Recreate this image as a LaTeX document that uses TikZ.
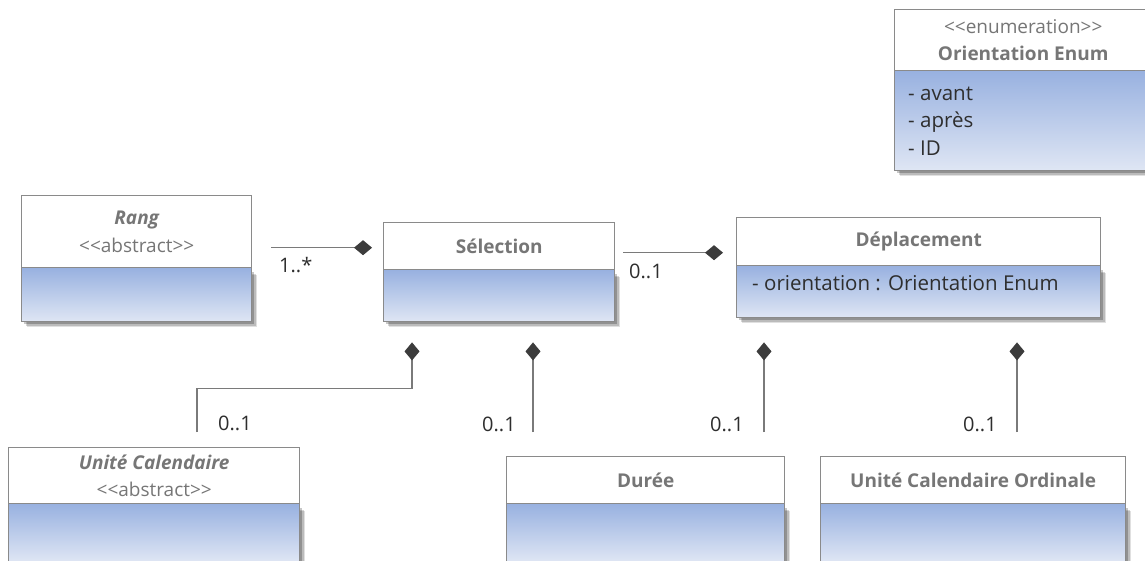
\documentclass[tikz,border=0pt]{standalone}
\usepackage{fontspec}
\setmainfont{Open Sans}[Ligatures=TeXOff]
\usetikzlibrary{arrows.meta,calc}
\definecolor{boxgray}{HTML}{8A8A8A}
\definecolor{titlec}{HTML}{767676}
\definecolor{textc}{HTML}{2E2E2E}
\definecolor{linec}{HTML}{7A7A7A}
\definecolor{diamc}{HTML}{3C3C3C}
\definecolor{bodytop}{RGB}{152,177,224}
\definecolor{bodybot}{RGB}{223,230,244}
\tikzset{
  hdr/.style={draw=boxgray,line width=1.4pt,fill=white,anchor=north west,inner sep=0pt,
    align=center,text=titlec,font=\fontsize{19}{27.5}\selectfont\bfseries},
  bdy/.style={draw=boxgray,line width=1.4pt,top color=bodytop,bottom color=bodybot,
    anchor=north west,inner sep=0pt},
  attr/.style={anchor=base west,inner sep=0pt,align=left,text=textc,
    font=\fontsize{20.5}{27.5}\selectfont},
  mult/.style={anchor=base west,inner sep=0pt,text=textc,font=\fontsize{20}{24}\selectfont},
  comp/.style={draw=linec,line width=1.3pt,-{Diamond[length=18pt,width=15pt,color=diamc]}},
}
% #1 id, #2 x, #3 y, #4 width, #5 header height, #6 body height, #7 header text
\newcommand\UMLcls[7]{%
  \foreach \s/\o in {6/.12,4.5/.16,3/.22}{%
    \fill[black,opacity=\o] (#2+\s,#3+#5+\s+2) rectangle (#2+#4+\s,#3+#5+#6+\s);}
  \node[hdr,minimum width=#4pt,minimum height=#5pt] (#1H) at (#2,#3) {#7};
  \node[bdy,minimum width=#4pt,minimum height=#6pt] (#1B) at (#2,#3+#5) {};
}
\begin{document}
\begin{tikzpicture}[x=1pt,y=-1pt]
\useasboundingbox (0,0) rectangle (1145,560);
\fill[white] (0,0) rectangle (1145,560);

\UMLcls{enum}{894}{9}{257}{61}{100}{{\mdseries <<enumeration>>}\\Orientation Enum}
\node[attr] (enumA) at (908,155) {- avant\\- après\\- ID};

\UMLcls{rang}{21}{195}{230}{72}{54}{{\itshape Rang}\\{\mdseries <<abstract>>}}
\UMLcls{sel}{383}{222}{231}{47}{52}{Sélection}
\UMLcls{depl}{736}{217}{364}{48}{52}{Déplacement}
\node[attr] (deplA) at (752,290) {- orientation : Orientation Enum};

\UMLcls{uc}{8}{447}{291}{56}{58}{{\itshape Unité Calendaire}\\{\mdseries <<abstract>>}}
\UMLcls{dur}{506}{456}{278}{47}{58}{Durée}
\UMLcls{uco}{820}{456}{305}{47}{58}{Unité Calendaire Ordinale}

% connectors
\draw[comp] ($(rangH.east)+(19,16)$) -- ($(selH.west)+(-11,1.5)$);
\draw[comp] ($(selH.east)+(8,6.5)$) -- ($(deplH.west)+(-13,11)$);
\draw[comp] ($(ucH.north west)+(189,-15)$) |- ($(selB.south west)+(29,66)$) -- ($(selB.south west)+(29,20)$);
\draw[comp] ($(durH.north west)+(27,-24)$) -- ($(selB.south west)+(150,20)$);
\draw[comp] ($(durH.north west)+(258,-24)$) -- ($(deplB.south west)+(28,24)$);
\draw[comp] ($(ucoH.north west)+(197,-24)$) -- ($(deplB.south west)+(281,24)$);

% multiplicities
\node[mult] (m1) at (279,272) {1..*};
\node[mult] (m2) at (629,278) {0..1};
\node[mult] (m3) at (218,430) {0..1};
\node[mult] (m4) at (482,431) {0..1};
\node[mult] (m5) at (710,431) {0..1};
\node[mult] (m6) at (963,431) {0..1};
\end{tikzpicture}
\end{document}
